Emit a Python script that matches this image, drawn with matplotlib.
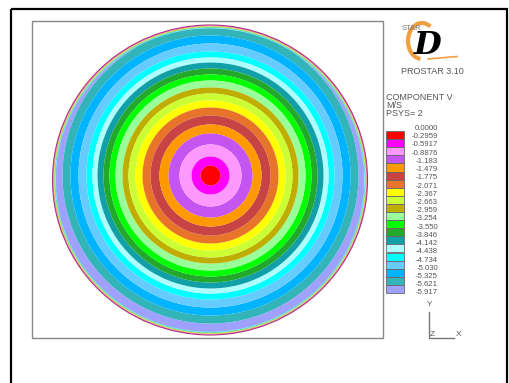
import numpy as np
import matplotlib
matplotlib.use("Agg")
import matplotlib.pyplot as plt
from matplotlib.patches import Rectangle, Ellipse, Arc
from matplotlib.colors import ListedColormap

# ---- data -------------------------------------------------------------
level_labels = ["0.0000", "-0.2959", "-0.5917", "-0.8876", "-1.183", "-1.479",
                "-1.775", "-2.071", "-2.367", "-2.663", "-2.959", "-3.254",
                "-3.550", "-3.846", "-4.142", "-4.438", "-4.734", "-5.030",
                "-5.325", "-5.621", "-5.917"]
level_values = [0.0, -0.2959, -0.5917, -0.8876, -1.183, -1.479, -1.775, -2.071,
                -2.367, -2.663, -2.959, -3.254, -3.550, -3.846, -4.142, -4.438,
                -4.734, -5.030, -5.325, -5.621, -5.917]
# radial velocity profile (radius in pixels from core centre)
profile_r = [0, 10, 19, 31, 42, 51, 60, 68, 75, 82, 88, 95, 101, 107, 113,
             118, 124, 132, 140, 148, 158, 175]
profile_v = [-0.05, -0.2959, -0.5917, -0.8876, -1.183, -1.479, -1.775, -2.071,
             -2.367, -2.663, -2.959, -3.254, -3.550, -3.846, -4.142, -4.438,
             -4.734, -5.030, -5.325, -5.621, -5.917, -6.30]

band_colors = ["#ff0000", "#ff00ff", "#ff99ff", "#c455f0", "#ff9900", "#c84444",
               "#e8742a", "#ffff00", "#ccff33", "#bfae00", "#99ff99", "#00ff00",
               "#22a82a", "#12a0a8", "#b0ffff", "#00ffff", "#66ccff", "#00b4ff",
               "#33b4b8", "#a0a0ff"]

# ---- figure ----------------------------------------------------------
W, H = 510, 383
fig = plt.figure(figsize=(W / 100, H / 100), dpi=100)
ax = fig.add_axes([0, 0, 1, 1])
ax.set_xlim(0, W)
ax.set_ylim(H, 0)
ax.axis("off")

# frames
ax.add_patch(Rectangle((11, 9), 496, 400, fill=False, ec="black", lw=1.6, zorder=5))
ax.add_patch(Rectangle((32, 21), 351, 317, fill=False, ec="#888888", lw=1.0, zorder=5))

# field
cx, cy, rx, ry = 210.0, 180.0, 157.5, 155.0
kx, ky = 210.5, 175.5
xs = np.arange(45, 376, 0.5)
ys = np.arange(18, 342, 0.5)
X, Y = np.meshgrid(xs, ys)
r = np.hypot(X - kx, Y - ky)
core = np.interp(r, profile_r, profile_v)
rho = np.sqrt(((X - cx) / rx) ** 2 + ((Y - cy) / ry) ** 2)
ramp = np.clip((1 - rho) * 156 / 3.5, 0, 1)
V = core * ramp + 0.02 * (1 - ramp)
V = np.ma.masked_where(rho > 1.0, V)

levels = level_values[::-1]
cols = band_colors[::-1]
cmap = ListedColormap(cols)
cmap.set_under(cols[0])
cmap.set_over("#cc2288")
ax.contourf(X, Y, V, levels=levels, cmap=cmap, extend="both", zorder=2,
            antialiased=True)
ax.add_patch(Ellipse((cx, cy), 2 * rx, 2 * ry, fill=False, ec="#b03080",
                     lw=0.8, zorder=3))

# legend / header text
tc = "#555555"
fam = ["Liberation Sans", "DejaVu Sans"]
ax.text(386, 97, "COMPONENT V", fontsize=6.5, color=tc, family=fam, va="center")
ax.text(386, 105.5, "M/S", fontsize=6.5, color=tc, family=fam, va="center")
ax.text(386, 114, "PSYS= 2", fontsize=6.5, color=tc, family=fam, va="center")

box_top, box_h = 131.0, 8.1
for j, c in enumerate(band_colors):
    ax.add_patch(Rectangle((386, box_top + j * box_h), 18, box_h, fc=c,
                           ec="#666666", lw=0.6, zorder=4))
for i, lab in enumerate(level_labels):
    ax.text(438, 128.5 + 8.22 * i, lab, fontsize=5.6, color=tc, family=fam,
            ha="right", va="center")

# logo
ax.add_patch(Arc((422, 41), 28, 36, theta1=95, theta2=300, color="#f0a040",
                 lw=3.0, zorder=4))
ax.plot([428, 445, 457], [59, 57.5, 56.5], color="#f0a040", lw=1.2, zorder=4)
ax.text(428, 46, "D", fontsize=23, fontstyle="italic", fontweight="bold",
        family="DejaVu Serif", color="black", ha="center", va="center", zorder=6)
ax.text(412, 28, "STAR", fontsize=5.5, color="#777777", family=fam,
        ha="center", va="center", zorder=7)
ax.text(432, 71, "PROSTAR 3.10", fontsize=6.5, color=tc, family=fam,
        ha="center", va="center")

# axis triad
ax.plot([429, 429, 454], [312, 338, 338], color="#777777", lw=1.0)
ax.text(430, 305, "Y", fontsize=6, color=tc, family=fam, ha="center", va="center")
ax.text(459, 335, "X", fontsize=6, color=tc, family=fam, ha="center", va="center")
ax.text(432, 334, "Z", fontsize=6, color=tc, family=fam, ha="center", va="center")

fig.savefig("out.png", dpi=100)
